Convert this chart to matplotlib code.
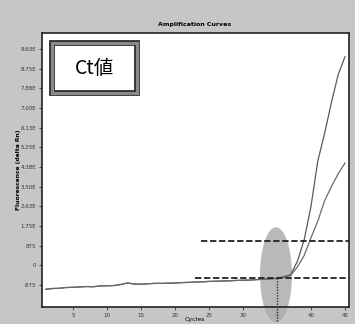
import matplotlib
matplotlib.use("Agg")
import matplotlib.pyplot as plt
from matplotlib.patches import Ellipse, Rectangle
import numpy as np

# values (fluorescence in tick steps, cycles 1..45)
cycles = np.arange(1, 46)
baseline = [-0.22, -0.18, -0.17, -0.13, -0.12, -0.10, -0.08, -0.09, -0.05, -0.04,
            -0.03, 0.02, 0.10, 0.05, 0.04, 0.06, 0.08, 0.08, 0.09, 0.10,
            0.12, 0.13, 0.15, 0.16, 0.18, 0.19, 0.20, 0.21, 0.23, 0.24,
            0.25, 0.27, 0.29, 0.31]
rise_a = [0.34, 0.42, 0.52, 1.20, 2.30, 4.00, 6.30, 7.70, 9.27, 10.70, 11.60]
rise_b = [0.33, 0.40, 0.48, 0.92, 1.50, 2.40, 3.25, 4.28, 5.00, 5.65, 6.20]

ytick_labels = ["-875", "0", "875", "1.75E", "2.63E", "3.50E", "4.38E",
                "5.25E", "6.13E", "7.00E", "7.88E", "8.75E", "9.63E"]
xticks = [5, 10, 15, 20, 25, 30, 35, 40, 45]

threshold_low = 0.36
threshold_high = 2.24
ct_cycle = 35.0

curve_a = baseline + rise_a
curve_b = baseline + rise_b

fig = plt.figure(figsize=(3.55, 3.24), dpi=100)
fig.patch.set_facecolor('#c6c6c6')
ax = fig.add_axes([0.1183, 0.0525, 0.8648, 0.8457])
ax.set_facecolor('white')

ax.plot(cycles, curve_a, color='#5a5a5a', lw=0.9, zorder=3)
ax.plot(cycles, curve_b, color='#6a6a6a', lw=0.9, zorder=3)

# threshold lines
ax.plot([22.9, 45.6], [threshold_low] * 2, color='#222222', lw=1.3,
        ls=(0, (3.5, 1.5)), zorder=4, clip_on=False)
ax.plot([23.8, 45.6], [threshold_high] * 2, color='#222222', lw=1.3,
        ls=(0, (3.5, 1.5)), zorder=4, clip_on=False)

# Ct marker
ax.add_patch(Ellipse((34.85, 0.51), 4.7, 4.85, facecolor='#adadad',
                     edgecolor='none', alpha=0.85, zorder=2, clip_on=False))
ax.plot([ct_cycle, ct_cycle], [threshold_low, -1.9], color='#333333', lw=1.0,
        ls=(0, (1, 1)), zorder=4, clip_on=False)

ax.set_xlim(0.44, 45.59)
ax.set_ylim(-1.12, 12.81)
ax.set_xticks(xticks)
ax.set_xticklabels([str(t) for t in xticks])
ax.set_yticks(range(len(ytick_labels)))
ax.set_yticklabels(ytick_labels)
ax.tick_params(labelsize=4, length=2, width=0.6, pad=2, colors='#333333')
for s in ax.spines.values():
    s.set_color('#222222')
    s.set_linewidth(1.2)

# Ct label box: grey frame with dark edges
ax.add_patch(Rectangle((0.033, 0.781), 0.276, 0.183, transform=ax.transAxes,
                       facecolor='white', edgecolor='#333333', lw=4.2, zorder=5))
ax.add_patch(Rectangle((0.033, 0.781), 0.276, 0.183, transform=ax.transAxes,
                       facecolor='none', edgecolor='#8a8a8a', lw=2.2, zorder=5))
ax.text(0.171, 0.872, "Ct値", transform=ax.transAxes, ha='center', va='center',
        fontsize=14, family=['Noto Sans CJK JP', 'DejaVu Sans'], zorder=6)

fig.text(0.549, 0.923, "Amplification Curves", ha='center', va='center',
         fontsize=4.5, weight='bold')
fig.text(0.549, 0.013, "Cycles", ha='center', va='center', fontsize=4.5)
fig.text(0.051, 0.475, "Fluorescence (delta Rn)", ha='center', va='center',
         rotation=90, fontsize=4.3, weight='bold')

fig.savefig("out.png", dpi=100, facecolor=fig.get_facecolor())
